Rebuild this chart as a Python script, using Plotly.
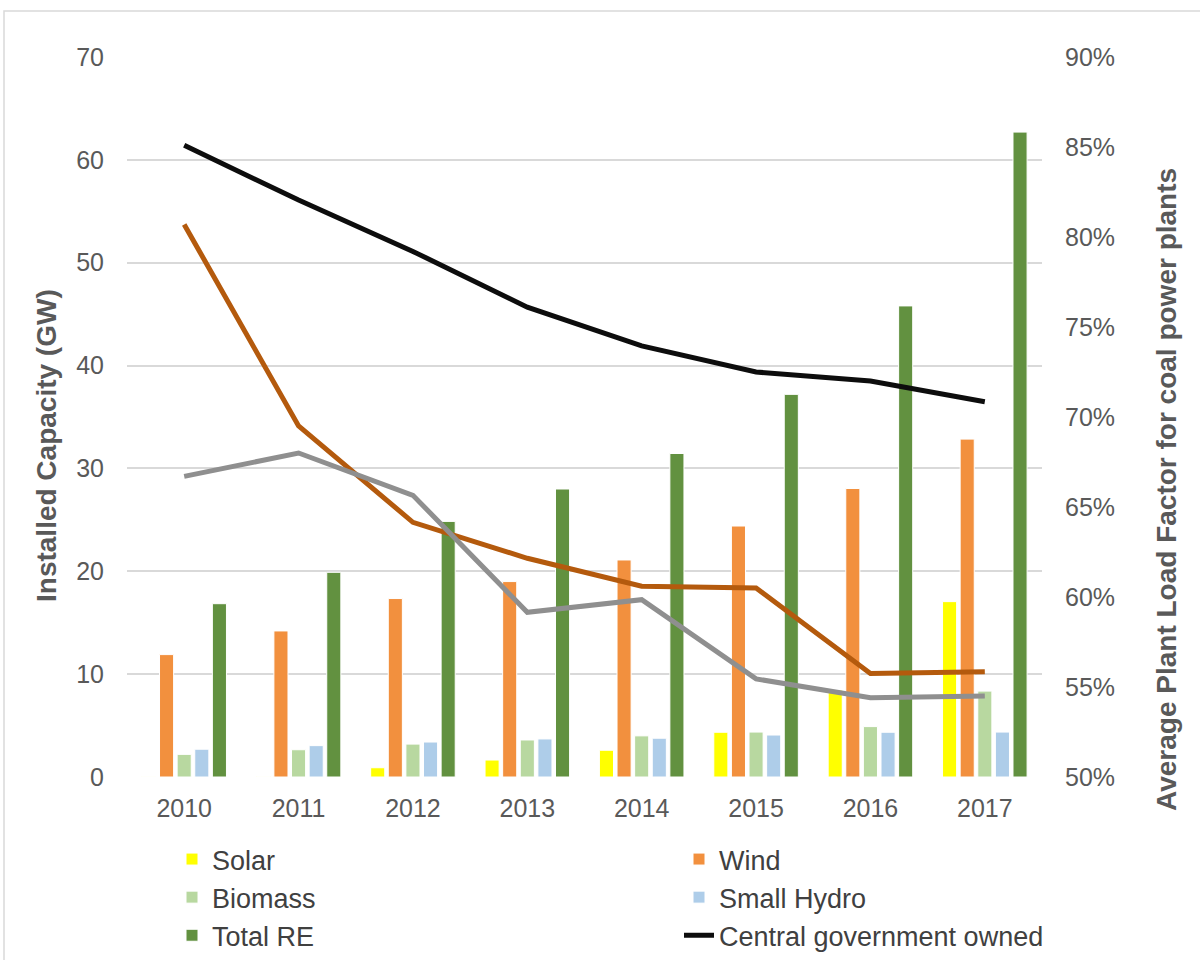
import plotly.graph_objects as go

years = ["2010", "2011", "2012", "2013", "2014", "2015", "2016", "2017"]
solar = [0.04, 0.04, 0.9, 1.65, 2.6, 4.35, 8.45, 17.05]
wind = [11.9, 14.2, 17.35, 19.0, 21.1, 24.4, 28.05, 32.85]
biomass = [2.2, 2.65, 3.2, 3.6, 4.0, 4.37, 4.9, 8.35]
small_hydro = [2.7, 3.05, 3.4, 3.7, 3.77, 4.08, 4.35, 4.37]
total_re = [16.85, 19.9, 24.85, 28.0, 31.45, 37.2, 45.8, 62.7]

plf_central = [85.1, 82.05, 79.2, 76.1, 73.95, 72.5, 72.0, 70.85]
plf_state = [80.7, 69.5, 64.15, 62.15, 60.6, 60.5, 55.75, 55.85]
plf_private = [66.7, 68.0, 65.65, 59.15, 59.85, 55.45, 54.4, 54.5]

FONT = "Liberation Sans, Arial, sans-serif"
TXT = "#595959"

fig = go.Figure()
bar_specs = [
    ("Solar", solar, "#ffff00", "legend"),
    ("Wind", wind, "#f2903e", "legend2"),
    ("Biomass", biomass, "#b8d8a0", "legend"),
    ("Small Hydro", small_hydro, "#aecde9", "legend2"),
    ("Total RE", total_re, "#629140", "legend"),
]
for name, vals, col, lg in bar_specs:
    fig.add_trace(go.Bar(x=years, y=vals, name=name, legend=lg,
                         marker=dict(color=col, line=dict(color="white", width=1))))

fig.add_trace(go.Scatter(x=years, y=plf_central, name="Central government owned",
                         mode="lines", yaxis="y2", legend="legend2",
                         line=dict(color="#0d0d0d", width=5)))
fig.add_trace(go.Scatter(x=years, y=plf_state, name="State government owned",
                         mode="lines", yaxis="y2", showlegend=False,
                         line=dict(color="#b45a0d", width=5)))
fig.add_trace(go.Scatter(x=years, y=plf_private, name="Private",
                         mode="lines", yaxis="y2", showlegend=False,
                         line=dict(color="#8f8f8f", width=5)))

L, R, T, B = 127, 158, 57, 183
W, H = 1200, 960
pw, ph = W - L - R, H - T - B

def px_x(x):
    return (x - L) / pw

def px_y(y):
    return (H - B - y) / ph

legend_common = dict(orientation="v", xanchor="left", yanchor="top",
                     yref="container",
                     font=dict(size=27, color="#404040", family=FONT),
                     bgcolor="rgba(0,0,0,0)", itemwidth=30, traceorder="normal")

fig.update_layout(
    width=W, height=H,
    margin=dict(l=L, r=R, t=T, b=B),
    paper_bgcolor="white", plot_bgcolor="white",
    font=dict(family=FONT, color=TXT, size=25),
    barmode="group", bargap=0.23, bargroupgap=0.2,
    xaxis=dict(type="category", showgrid=False, zeroline=False, showline=False,
               tickfont=dict(size=25, color=TXT), ticklabelstandoff=14),
    yaxis=dict(range=[0, 70], dtick=10, showgrid=True, gridcolor="#d9d9d9",
               gridwidth=1.5, zeroline=False, showline=False,
               tickfont=dict(size=25, color=TXT), ticklabelstandoff=22),
    yaxis2=dict(range=[50, 90], dtick=5, overlaying="y", side="right",
                showgrid=False, zeroline=False, showline=False, ticksuffix="%",
                tickfont=dict(size=25, color=TXT), ticklabelstandoff=22),
    legend=dict(x=px_x(172), y=1 - 835 / H, **legend_common),
    legend2=dict(x=px_x(679), y=1 - 835 / H, **legend_common),
    shapes=[dict(type="rect", xref="paper", yref="paper",
                 x0=px_x(4), x1=px_x(1210), y0=px_y(975), y1=px_y(11),
                 line=dict(color="#d9d9d9", width=1.5), layer="below")],
    annotations=[
        dict(text="<b>Installed Capacity (GW)</b>", xref="paper", yref="paper",
             x=px_x(46), y=px_y(446), textangle=-90, showarrow=False,
             font=dict(size=28, color=TXT, family=FONT), xanchor="center", yanchor="middle"),
        dict(text="<b>Average Plant Load Factor for coal power plants</b>", xref="paper", yref="paper",
             x=px_x(1166), y=px_y(490), textangle=-90, showarrow=False,
             font=dict(size=28, color=TXT, family=FONT), xanchor="center", yanchor="middle"),
    ],
)

fig.write_html("out.html")
